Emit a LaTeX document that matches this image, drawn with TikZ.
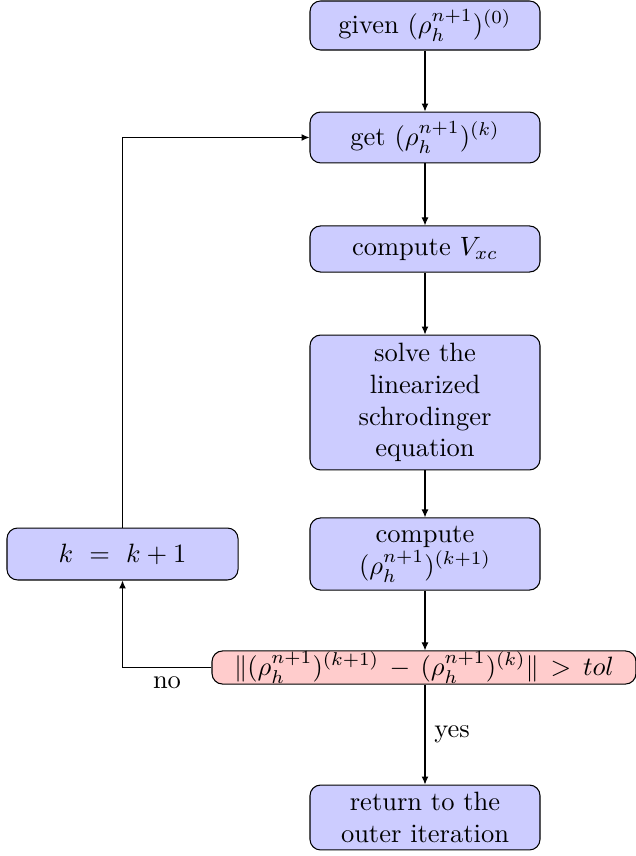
\documentclass[tikz,border=0pt]{standalone}
\usetikzlibrary{arrows.meta}
\begin{document}
\begin{tikzpicture}[x=0.3774pt,y=-0.3774pt,
  proc/.style={draw, rounded corners, fill=blue!20, align=center, inner sep=0pt, minimum width=86.8pt},
  decbox/.style={draw, rounded corners, fill=red!20, inner xsep=0pt, inner ysep=0pt},
  arr/.style={-{Latex[length=3pt,width=2.6pt]}}]
\useasboundingbox (0,0) rectangle (635,856);
\node[proc, minimum height=18.5pt] (given) at (425,25.5) {given $(\rho_h^{n+1})^{(0)}$};
\node[proc, minimum height=19.2pt] (get) at (425,137.5) {get $(\rho_h^{n+1})^{(k)}$};
\node[proc, minimum height=17.4pt] (vxc) at (425,249) {compute $V_{xc}$};
\node[proc, minimum height=50.9pt] (solve) at (425,402.5) {solve the\\linearized\\schrodinger\\equation};
\node[proc, minimum height=27.2pt] (rho) at (425,554) {compute\\$(\rho_h^{n+1})^{(k+1)}$};
\node[decbox, minimum width=160pt, minimum height=12.5pt] (dec) at (424,667.5) {$\|(\rho_h^{n+1})^{(k+1)}\,-\,(\rho_h^{n+1})^{(k)}\|\,>\,tol$};
\node[proc, minimum height=24.5pt] (ret) at (425,817.5) {return to the\\outer iteration};
\node[proc, minimum width=87.2pt, minimum height=19.6pt] (kbox) at (122.5,554) {$k\ =\ k+1$};
\draw[arr] (given) -- (get);
\draw[arr] (get) -- (vxc);
\draw[arr] (vxc) -- (solve);
\draw[arr] (solve) -- (rho);
\draw[arr] (rho.south) -- (rho.south |- dec.north);
\draw[arr] (dec.south -| ret.north) -- node[right]{yes} (ret.north);
\draw[arr] (dec.west) -| node[pos=0.25, below]{no} (kbox.south);
\draw[arr] (kbox.north) |- (get.west);
\end{tikzpicture}
\end{document}
